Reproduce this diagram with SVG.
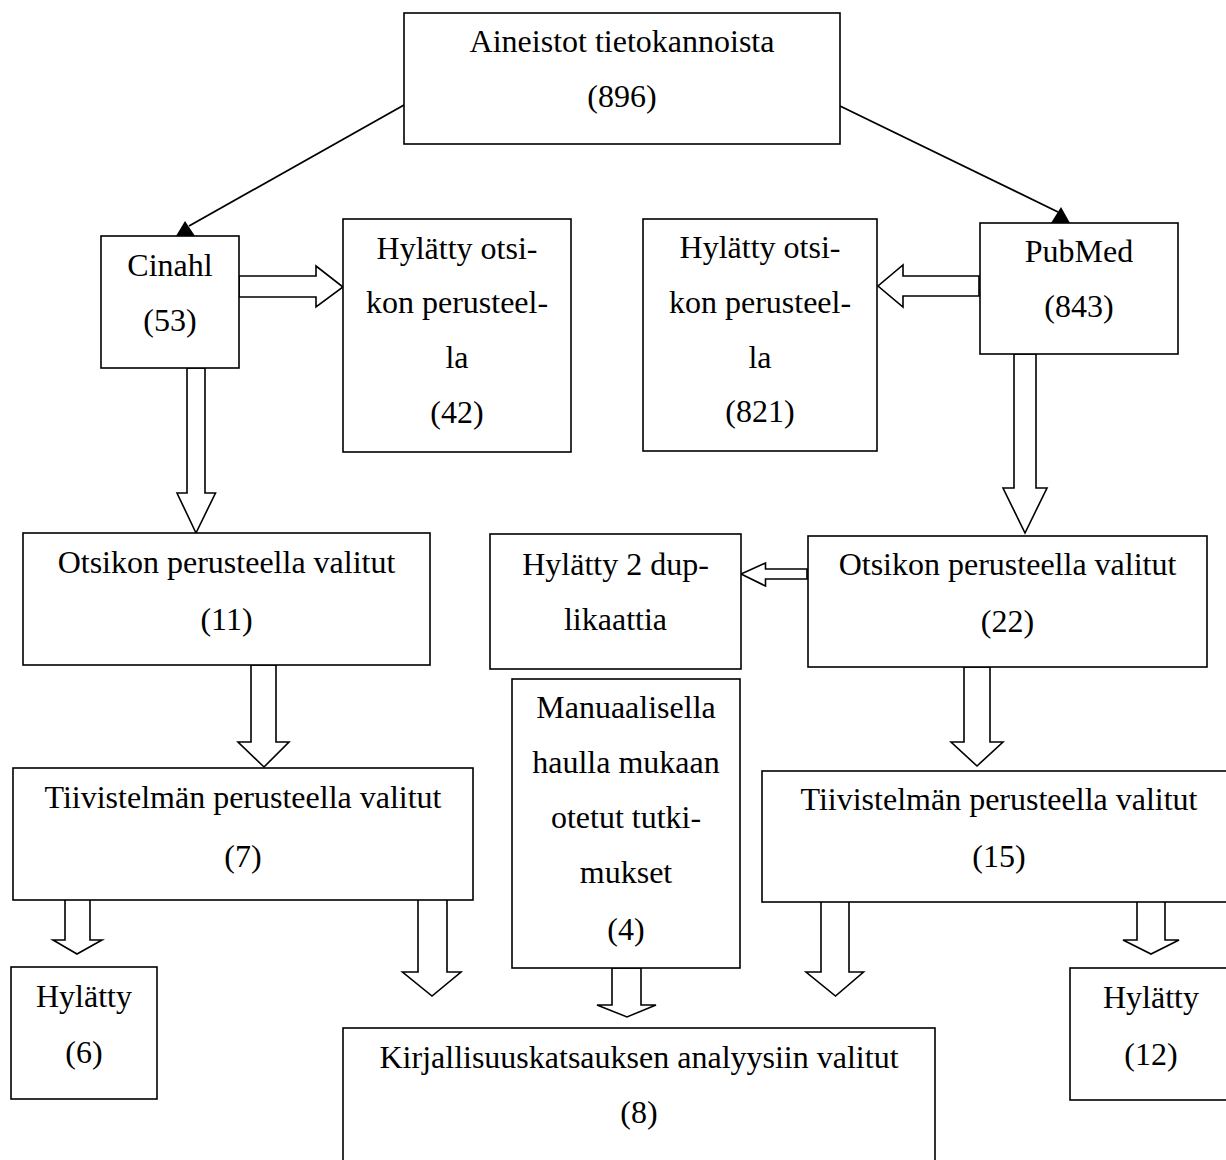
<svg xmlns="http://www.w3.org/2000/svg" width="1226" height="1160" viewBox="0 0 1226 1160">
<style>
.box{fill:#fff;stroke:#000;stroke-width:1.6}
.blk{fill:#fff;stroke:#000;stroke-width:1.6;stroke-linejoin:miter}
.ln{stroke:#000;stroke-width:1.8;fill:none}
.hd{fill:#000;stroke:none}
text{font-family:"Liberation Serif","Times New Roman",serif;font-size:32px;fill:#000;text-anchor:middle}
</style>
<rect width="1226" height="1160" fill="#fff"/>
<g id="connectors">
<line class="ln" x1="404" y1="105" x2="189" y2="226"/>
<polygon class="hd" points="185,221 176,236 195,236"/>
<line class="ln" x1="840" y1="106" x2="1058" y2="212"/>
<polygon class="hd" points="1061,207 1051,223 1070,223"/>
<polygon class="blk" points="239,276 316,276 316,266 343,287 316,307 316,297 239,297"/>
<polygon class="blk" points="979,276 903,276 903,265 878,286 903,307 903,296 979,296"/>
<polygon class="blk" points="187,368 205,368 205,493 215.5,493 196,533 177,493 187,493"/>
<polygon class="blk" points="1014,354 1036,354 1036,488 1047,488 1025,533 1003,488 1014,488"/>
<polygon class="blk" points="807,569 765.5,569 765.5,563 741,574 765.5,586 765.5,579 807,579"/>
<polygon class="blk" points="251,665 276,665 276,742 289,742 264,767 238,742 251,742"/>
<polygon class="blk" points="964,667 990,667 990,742 1003,742 977,766 951,742 964,742"/>
<polygon class="blk" points="65,899 90,899 90,940 102,940 77,954 53,940 65,940"/>
<polygon class="blk" points="418,898 447,898 447,972 461,972 432,996 402.5,972 418,972"/>
<polygon class="blk" points="612,968 641,968 641,1005 656,1005 627,1017 597,1005 612,1005"/>
<polygon class="blk" points="821,900 849,900 849,972 863.5,972 835.5,996 806,972 821,972"/>
<polygon class="blk" points="1137,900 1165,900 1165,940 1179,940 1151,954 1123,940 1137,940"/>
</g>
<g id="n-aineistot"><rect class="box" x="404" y="13" width="436" height="131"/><text x="622" y="52">Aineistot tietokannoista</text><text x="622" y="107">(896)</text></g>
<g id="n-cinahl"><rect class="box" x="101" y="236" width="138" height="132"/><text x="170" y="276">Cinahl</text><text x="170" y="331">(53)</text></g>
<g id="n-hylatty42"><rect class="box" x="343" y="219" width="228" height="233"/><text x="457" y="259">Hylätty otsi-</text><text x="457" y="313">kon perusteel-</text><text x="457" y="368">la</text><text x="457" y="423">(42)</text></g>
<g id="n-pubmed"><rect class="box" x="980" y="223" width="198" height="131"/><text x="1079" y="262">PubMed</text><text x="1079" y="317">(843)</text></g>
<g id="n-hylatty821"><rect class="box" x="643" y="219" width="234" height="232"/><text x="760" y="258">Hylätty otsi-</text><text x="760" y="313">kon perusteel-</text><text x="760" y="368">la</text><text x="760" y="422">(821)</text></g>
<g id="n-otsikon11"><rect class="box" x="23" y="533" width="407" height="132"/><text x="226.5" y="573">Otsikon perusteella valitut</text><text x="226.5" y="630">(11)</text></g>
<g id="n-duplikaatit"><rect class="box" x="490" y="534" width="251" height="135"/><text x="615.5" y="575">Hylätty 2 dup-</text><text x="615.5" y="630">likaattia</text></g>
<g id="n-otsikon22"><rect class="box" x="808" y="536" width="399" height="131"/><text x="1007.5" y="575">Otsikon perusteella valitut</text><text x="1007.5" y="632">(22)</text></g>
<g id="n-tiivistelma7"><rect class="box" x="13" y="768" width="460" height="132"/><text x="243" y="808">Tiivistelmän perusteella valitut</text><text x="243" y="867">(7)</text></g>
<g id="n-manuaalinen"><rect class="box" x="512" y="679" width="228" height="289"/><text x="626" y="718">Manuaalisella</text><text x="626" y="773">haulla mukaan</text><text x="626" y="828">otetut tutki-</text><text x="626" y="883">mukset</text><text x="626" y="940">(4)</text></g>
<g id="n-tiivistelma15"><rect class="box" x="762" y="771" width="480" height="131"/><text x="999" y="810">Tiivistelmän perusteella valitut</text><text x="999" y="867">(15)</text></g>
<g id="n-hylatty6"><rect class="box" x="11" y="967" width="146" height="132"/><text x="84" y="1007">Hylätty</text><text x="84" y="1063">(6)</text></g>
<g id="n-kirjallisuus"><rect class="box" x="343" y="1028" width="592" height="150"/><text x="639" y="1068">Kirjallisuuskatsauksen analyysiin valitut</text><text x="639" y="1123">(8)</text></g>
<g id="n-hylatty12"><rect class="box" x="1070" y="968" width="172" height="132"/><text x="1151" y="1008">Hylätty</text><text x="1151" y="1065">(12)</text></g>
</svg>
